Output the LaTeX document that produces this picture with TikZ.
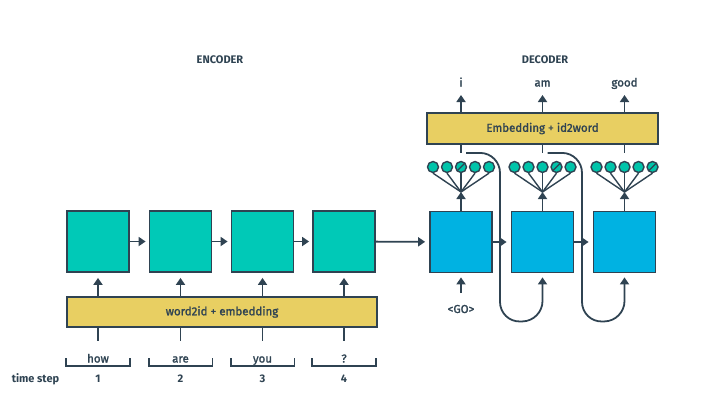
\documentclass[tikz,border=0pt]{standalone}
\usepackage{fontspec}
\setmainfont{Fira Sans}
\newfontfamily\medfont{Fira Sans}[FakeBold=1.6]
\usetikzlibrary{arrows.meta}
\usetikzlibrary{calc}
\definecolor{ink}{HTML}{2F4352}
\definecolor{encfill}{HTML}{00C9B7}
\definecolor{decfill}{HTML}{00B2E2}
\definecolor{embfill}{HTML}{E8CF62}
\definecolor{unitfill}{HTML}{00C4AA}
\tikzset{cell/.style={draw=ink,line width=1.8pt,fill=#1,minimum width=62pt,minimum height=61pt,inner sep=0pt},cell/.default=encfill}
\tikzset{layer/.style={draw=ink,line width=1.8pt,fill=embfill,inner sep=0pt,text=ink,font=\fontsize{11.5pt}{13pt}\medfont}}
\tikzset{wire/.style={draw=ink,line width=1.8pt}}
\tikzset{arr/.style={wire,-{Triangle[width=9pt,length=7pt]}}}
\tikzset{lbl/.style={text=ink,inner sep=0pt,anchor=base,font=\fontsize{11.5pt}{13pt}\medfont}}
\tikzset{head/.style={lbl,font=\fontsize{11pt}{13pt}\selectfont\bfseries}}
\tikzset{unit/.style={circle,draw=ink,line width=1.4pt,fill=unitfill,minimum size=11pt,inner sep=0pt}}
\tikzset{fan/.style={draw=ink,line width=1.4pt}}

\begin{document}
\begin{tikzpicture}[x=1pt,y=-1pt]
	\useasboundingbox (0,0) rectangle (708,407);

	% Titulos
	\node[head] (enctitle) at (220,63.5) {ENCODER};
	\node[head] (dectitle) at (545,63.5) {DECODER};

	% O codificador
	\foreach \i/\x in {1/98,2/180.5,3/262.5,4/344}
		\node[cell] (enc\i) at (\x,241.5) {};
	\node[layer,minimum width=310pt,minimum height=30pt] (wordemb) at (222,312) {word2id + embedding};
	\foreach \i/\j in {1/2,2/3,3/4}
		\draw[arr,shorten >=3pt] (enc\i) -- (enc\j);
	\foreach \i/\w in {1/how,2/are,3/you,4/?}{
		\draw[arr,shorten >=5pt] (wordemb.north -| enc\i) -- (enc\i.south);
		\draw[wire] (wordemb.south -| enc\i) -- ++(0,13);
		\node[lbl] (w\i) at (enc\i |- 0,362.5) {\w};
		\draw[wire] (enc\i.west |- 0,358) -- (enc\i.west |- 0,366) -- (enc\i.east |- 0,366) -- (enc\i.east |- 0,358);
		\node[head] (n\i) at (enc\i |- 0,382.5) {\i};
	}
	\node[head] (timestep) at (35.5,382.5) {time step};

	% O decodificador
	\foreach \i/\x in {5/461,6/542.5,7/624.5}
		\node[cell=decfill] (dec\i) at (\x,242) {};
	\node[layer,minimum width=231pt,minimum height=31pt] (idemb) at (542.5,128.5) {Embedding + id2word};
	\draw[arr,shorten >=4pt] (enc4) -- (dec5);
	\draw[arr,shorten >=4pt] (dec5) -- (dec6);
	\draw[arr,shorten >=4pt] (dec6) -- (dec7);

	\node[lbl] (go) at (461,313) {<GO>};
	\draw[arr,shorten >=4pt] ($(go.base)+(0,-20)$) -- (dec5.south);

	\foreach \i/\w in {5/i,6/am,7/good}{
		\node[lbl] (o\i) at (dec\i |- 0,86.5) {\w};
		\draw[arr] (idemb.north -| o\i) -- ($(o\i.base)+(0,8.5)$);
		\draw[wire] (idemb.south -| dec\i) -- ++(0,8);
		% Camada de saida
		\coordinate (hub\i) at (dec\i |- 0,192);
		\foreach \k/\dx in {1/-28,2/-14,3/0,4/14,5/28}{
			\node[unit,xshift=\dx pt] (u\i\k) at (dec\i |- 0,167) {};
			\draw[fan] (hub\i) -- (u\i\k.south);
		}
		\draw[arr] (dec\i) -- (hub\i);
	}
	% Unidades escolhidas
	\foreach \u in {u53,u64,u75}
		\draw[fan,line width=1.1pt,shorten <=1pt,shorten >=1pt] (\u.south west) -- (\u.north east);

	% Realimentacao
	\coordinate (fb5) at ($(idemb.south -| dec5)+(5,8)$);
	\coordinate (fb6) at ($(idemb.south -| dec6)+(5,8)$);
	\draw[arr,rounded corners=20pt,shorten >=4pt] (fb5) -- ++(34,0) -- ++(0,169) -- (dec6 |- 0,321) -- (dec6.south);
	\draw[arr,rounded corners=20pt,shorten >=4pt] (fb6) -- ++(34.5,0) -- ++(0,169) -- (dec7 |- 0,321) -- (dec7.south);
\end{tikzpicture}
\end{document}
